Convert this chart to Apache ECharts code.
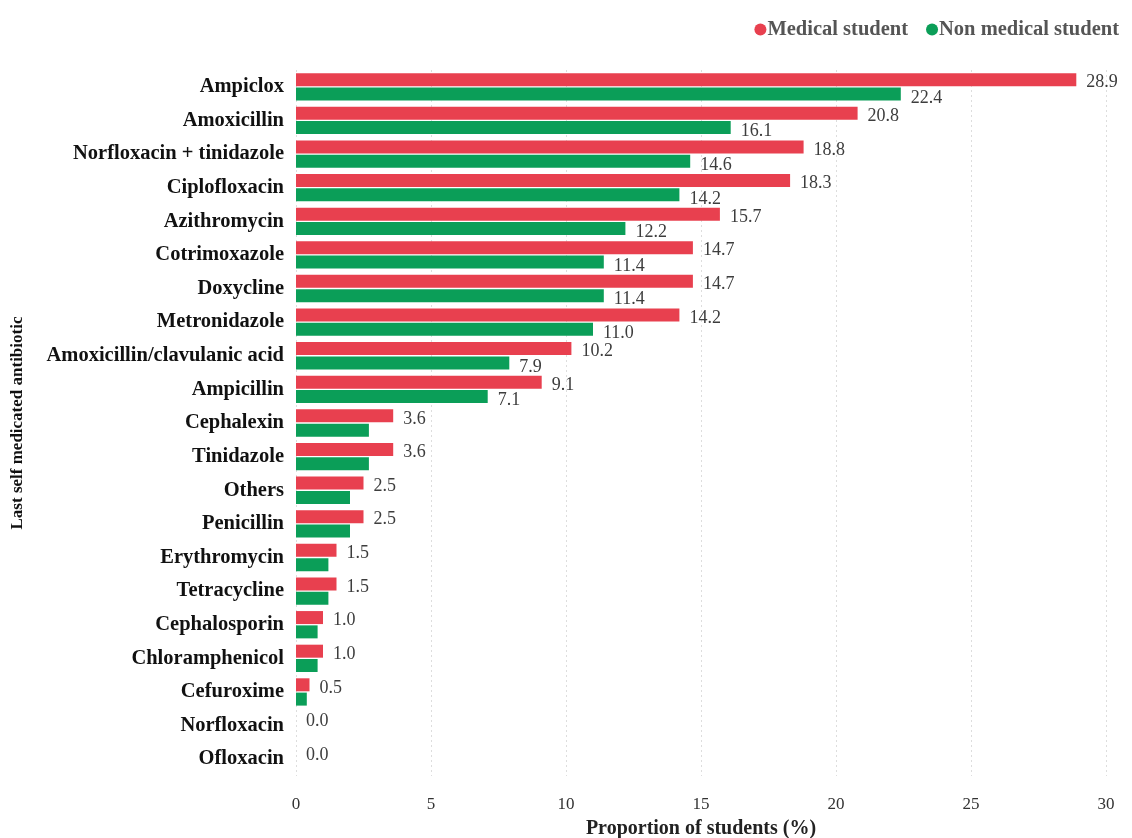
<!DOCTYPE html>
<html>
<head>
<meta charset="utf-8">
<script src="https://cdn.jsdelivr.net/npm/echarts@6/dist/echarts.min.js"></script>
<style>html,body{margin:0;padding:0;background:#fff}#c{width:1132px;height:838px}</style>
</head>
<body>
<div id="c"></div>
<script>
const categories = ["Ampiclox","Amoxicillin","Norfloxacin + tinidazole","Ciplofloxacin","Azithromycin","Cotrimoxazole","Doxycline","Metronidazole","Amoxicillin/clavulanic acid","Ampicillin","Cephalexin","Tinidazole","Others","Penicillin","Erythromycin","Tetracycline","Cephalosporin","Chloramphenicol","Cefuroxime","Norfloxacin","Ofloxacin"];
const medical = [28.9,20.8,18.8,18.3,15.7,14.7,14.7,14.2,10.2,9.1,3.6,3.6,2.5,2.5,1.5,1.5,1.0,1.0,0.5,0.0,0.0];
const nonMedical = [22.4,16.1,14.6,14.2,12.2,11.4,11.4,11.0,7.9,7.1,2.7,2.7,2.0,2.0,1.2,1.2,0.8,0.8,0.4,0.0,0.0];
const nonMedicalLabelled = 10; // only the first rows carry a label for the green bars
const xTicks = [0,5,10,15,20,25,30];

const serif = "'Liberation Serif', 'DejaVu Serif', serif";
const chart = echarts.init(document.getElementById('c'));
chart.setOption({
  animation: false,
  textStyle: {fontFamily: serif},
  legend: {
    top: 14, right: 8, itemWidth: 12, itemHeight: 12, itemGap: 18, icon: 'circle',
    textStyle: {fontFamily: serif, fontSize: 20.5, fontWeight: 'bold', color: '#555', padding: [0,0,0,-4]},
    data: ['Medical student', 'Non medical student']
  },
  grid: {left: 296, right: 26, top: 70, bottom: 62, containLabel: false, outerBoundsMode: 'none'},
  xAxis: {
    type: 'value', min: xTicks[0], max: xTicks[xTicks.length-1], interval: 5,
    name: 'Proportion of students (%)', nameLocation: 'middle', nameGap: 43,
    nameTextStyle: {fontFamily: serif, fontSize: 20, fontWeight: 'bold', color: '#222'},
    axisLine: {show: false}, axisTick: {show: false},
    axisLabel: {fontFamily: serif, fontSize: 17, color: '#333', margin: 20},
    splitLine: {show: true, lineStyle: {type: [2,3], color: '#ddd', width: 1}}
  },
  yAxis: {
    type: 'category', data: categories, inverse: true,
    name: 'Last self medicated antibiotic', nameLocation: 'middle', nameGap: 270,
    nameTextStyle: {fontFamily: serif, fontSize: 17, fontWeight: 'bold', color: '#111'},
    axisLine: {show: false}, axisTick: {show: false},
    axisLabel: {fontFamily: serif, fontSize: 20.5, fontWeight: 'bold', color: '#111', margin: 12}
  },
  series: [
    {
      name: 'Medical student', type: 'bar', data: medical,
      barWidth: 13, barGap: '10%', barCategoryGap: '20%',
      itemStyle: {color: '#E8404F'},
      label: {show: true, position: 'right', distance: 8, offset: [2, 3],
        fontFamily: serif, fontSize: 18, color: '#3d3d3d',
        formatter: p => p.value.toFixed(1)}
    },
    {
      name: 'Non medical student', type: 'bar', data: nonMedical,
      barWidth: 13,
      itemStyle: {color: '#0B9E58'},
      label: {show: true, position: 'right', distance: 8, offset: [2, 4],
        fontFamily: serif, fontSize: 18, color: '#3d3d3d',
        formatter: p => p.dataIndex < nonMedicalLabelled ? p.value.toFixed(1) : ''}
    }
  ]
});
</script>
</body>
</html>
